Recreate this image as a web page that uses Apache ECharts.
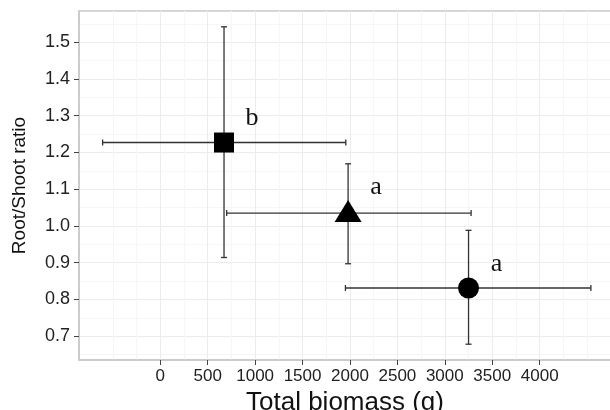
<!DOCTYPE html>
<html>
<head>
<meta charset="utf-8">
<script src="https://cdn.jsdelivr.net/npm/echarts@6/dist/echarts.min.js"></script>
<style>
  html, body { margin: 0; padding: 0; background: #fff; }
  #chart { width: 610px; height: 410px; }
</style>
</head>
<body>
<div id="chart"></div>
<script>
// group means with error bars
const biomass = [672, 1980, 3250]
const ratio = [1.227, 1.035, 0.831]
const biomassLo = [-608, 700, 1952]
const biomassHi = [1956, 3277, 4540]
const ratioLo = [0.914, 0.897, 0.678]
const ratioHi = [1.542, 1.169, 0.988]
const shapes = ['rect', 'triangle', 'circle']
const letters = ['b', 'a', 'a']

const xTicks = [0, 500, 1000, 1500, 2000, 2500, 3000, 3500, 4000]
const xMinor = [-500, -250, 250, 750, 1250, 1750, 2250, 2750, 3250, 3750, 4250, 4500]
const yTicks = [0.7, 0.8, 0.9, 1.0, 1.1, 1.2, 1.3, 1.4, 1.5]
const yMinor = [0.65, 0.75, 0.85, 0.95, 1.05, 1.15, 1.25, 1.35, 1.45, 1.55]

const xMin = -857, xMax = 4752
const yMin = 0.635, yMax = 1.585

const sans = "'Liberation Sans', Arial, sans-serif"
const serif = "'Liberation Serif', 'Times New Roman', serif"
const borderColor = '#c9c9c9'

const myChart = echarts.init(document.getElementById('chart'), null, { renderer: 'canvas' })

const errRows = biomass.map((x, i) => [x, ratio[i], biomassLo[i], biomassHi[i], ratioLo[i], ratioHi[i]])

const hiddenAxis = (values, color) => ({
  axisLine: { show: false, onZero: false },
  axisLabel: { show: false },
  axisTick: { show: false, customValues: values },
  splitLine: { show: true, lineStyle: { color, width: 1 } },
})

const options = {
  animation: false,
  grid: {
    left: 79, right: -1, top: 11, bottom: 50,
    show: true, borderColor, borderWidth: 1.5,
    containLabel: false,
    outerBoundsMode: 'none',
  },
  xAxis: [
    {
      type: 'value', min: xMin, max: xMax,
      name: 'Total biomass (g)', nameLocation: 'middle', nameGap: 21,
      nameTextStyle: { fontFamily: sans, fontSize: 26, color: '#111' },
      axisLine: { show: true, onZero: false, lineStyle: { color: borderColor, width: 1.5 } },
      axisTick: { show: true, length: 5, customValues: xTicks, lineStyle: { color: '#444', width: 1 } },
      axisLabel: {
        customValues: xTicks, margin: 8, fontFamily: sans, fontSize: 17, color: '#222',
        formatter: (v) => String(v),
      },
      splitLine: { show: true, lineStyle: { color: '#ececec', width: 1 } },
    },
    Object.assign({ type: 'value', min: xMin, max: xMax }, hiddenAxis(xMinor, '#f6f6f6')),
  ],
  yAxis: [
    {
      type: 'value', min: yMin, max: yMax,
      name: 'Root/Shoot ratio', nameLocation: 'middle', nameGap: 50, nameRotate: 90,
      nameTextStyle: { fontFamily: sans, fontSize: 19, color: '#111' },
      axisLine: { show: true, onZero: false, lineStyle: { color: borderColor, width: 1.5 } },
      axisTick: { show: true, length: 5, customValues: yTicks, lineStyle: { color: '#444', width: 1 } },
      axisLabel: {
        customValues: yTicks, margin: 9, fontFamily: sans, fontSize: 18, color: '#222',
        formatter: (v) => v.toFixed(1),
      },
      splitLine: { show: true, lineStyle: { color: '#ececec', width: 1 } },
    },
    Object.assign({ type: 'value', min: yMin, max: yMax }, hiddenAxis(yMinor, '#f6f6f6')),
  ],
  series: [
    {
      type: 'custom',
      z: 2,
      data: errRows,
      renderItem: (params, api) => {
        const c = api.coord([api.value(0), api.value(1)])
        const l = api.coord([api.value(2), api.value(1)])
        const r = api.coord([api.value(3), api.value(1)])
        const b = api.coord([api.value(0), api.value(4)])
        const t = api.coord([api.value(0), api.value(5)])
        const cap = 3
        const style = { stroke: '#333', lineWidth: 1.3, fill: null }
        const line = (x1, y1, x2, y2) => ({ type: 'line', shape: { x1, y1, x2, y2 }, style })
        return {
          type: 'group',
          children: [
            line(l[0], c[1], r[0], c[1]),
            line(l[0], c[1] - cap, l[0], c[1] + cap),
            line(r[0], c[1] - cap, r[0], c[1] + cap),
            line(c[0], t[1], c[0], b[1]),
            line(c[0] - cap, t[1], c[0] + cap, t[1]),
            line(c[0] - cap, b[1], c[0] + cap, b[1]),
          ],
        }
      },
    },
    {
      type: 'scatter',
      z: 3,
      data: biomass.map((x, i) => ({
        value: [x, ratio[i]],
        symbol: shapes[i],
        symbolSize: shapes[i] === 'rect' ? 20 : shapes[i] === 'triangle' ? [27, 22] : 21,
        symbolOffset: shapes[i] === 'triangle' ? [0, -2] : [0, 0],
        label: { formatter: letters[i] },
      })),
      itemStyle: { color: '#000', opacity: 1 },
      label: {
        show: true, position: 'inside', offset: [28, -24],
        fontFamily: serif, fontSize: 26, color: '#111',
      },
      emphasis: { disabled: true },
    },
  ],
}

myChart.setOption(options)
</script>
</body>
</html>
